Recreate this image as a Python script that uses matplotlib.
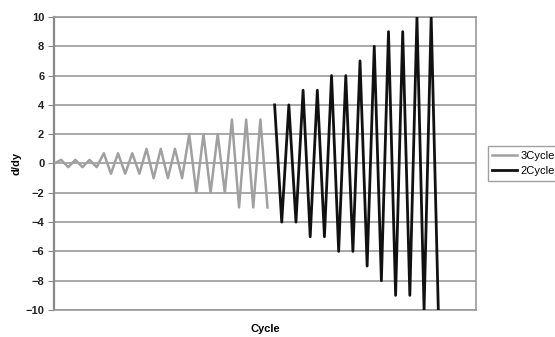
import matplotlib
matplotlib.use("Agg")
import matplotlib.pyplot as plt
import numpy as np

plt.rcParams['font.family'] = ['Liberation Sans', 'DejaVu Sans']

# peak amplitude of each cycle (each cycle = one peak, one trough)
amp_3cycle = [0.25, 0.25, 0.25, 0.7, 0.7, 0.7, 1, 1, 1, 2, 2, 2, 3, 3, 3]
amp_2cycle = [4, 4, 5, 5, 6, 6, 7, 8, 9, 9, 10, 10]

# build the zigzag series: start at 0, then +A, -A for each cycle
y3 = [0]
for a in amp_3cycle:
    y3 += [a, -a]
y2 = []
for a in amp_2cycle:
    y2 += [a, -a]

x3 = np.arange(len(y3))
x2 = np.arange(len(y3), len(y3) + len(y2))

fig = plt.figure(figsize=(5.55, 3.37), dpi=100)
ax = fig.add_axes([0.0973, 0.0801, 0.7604, 0.8695])

ax.plot(x3, y3, color='#a0a0a0', lw=1.8, label='3Cycle', zorder=3)
ax.plot(x2, y2, color='#111111', lw=2.0, label='2Cycle', zorder=4)

ax.set_xlim(0, 59.3)
ax.set_ylim(-10, 10)
ax.set_yticks(range(-10, 11, 2))
ax.set_xticks([])
ax.yaxis.grid(True, color='#9a9a9a', lw=1.2)
ax.set_axisbelow(True)
for s in ax.spines.values():
    s.set_color('#9a9a9a')
    s.set_linewidth(1.2)
ax.spines['left'].set_color('#888888')
ax.spines['left'].set_linewidth(1.6)
ax.tick_params(axis='y', length=4, color='#888888', labelsize=8, pad=3)
for t in ax.get_yticklabels():
    t.set_fontweight('bold')
    t.set_color('#222222')

ax.set_ylabel('d/dy', fontsize=8, fontweight='bold', labelpad=3)
ax.set_xlabel('Cycle', fontsize=8, fontweight='bold', labelpad=10)

ax.legend(loc='center left', bbox_to_anchor=(1.015, 0.5), frameon=True,
          fancybox=False, edgecolor='#888888', fontsize=8, handlelength=2.2,
          handletextpad=0.3, borderpad=0.4, labelspacing=0.5)

fig.savefig('out.png', dpi=100)
